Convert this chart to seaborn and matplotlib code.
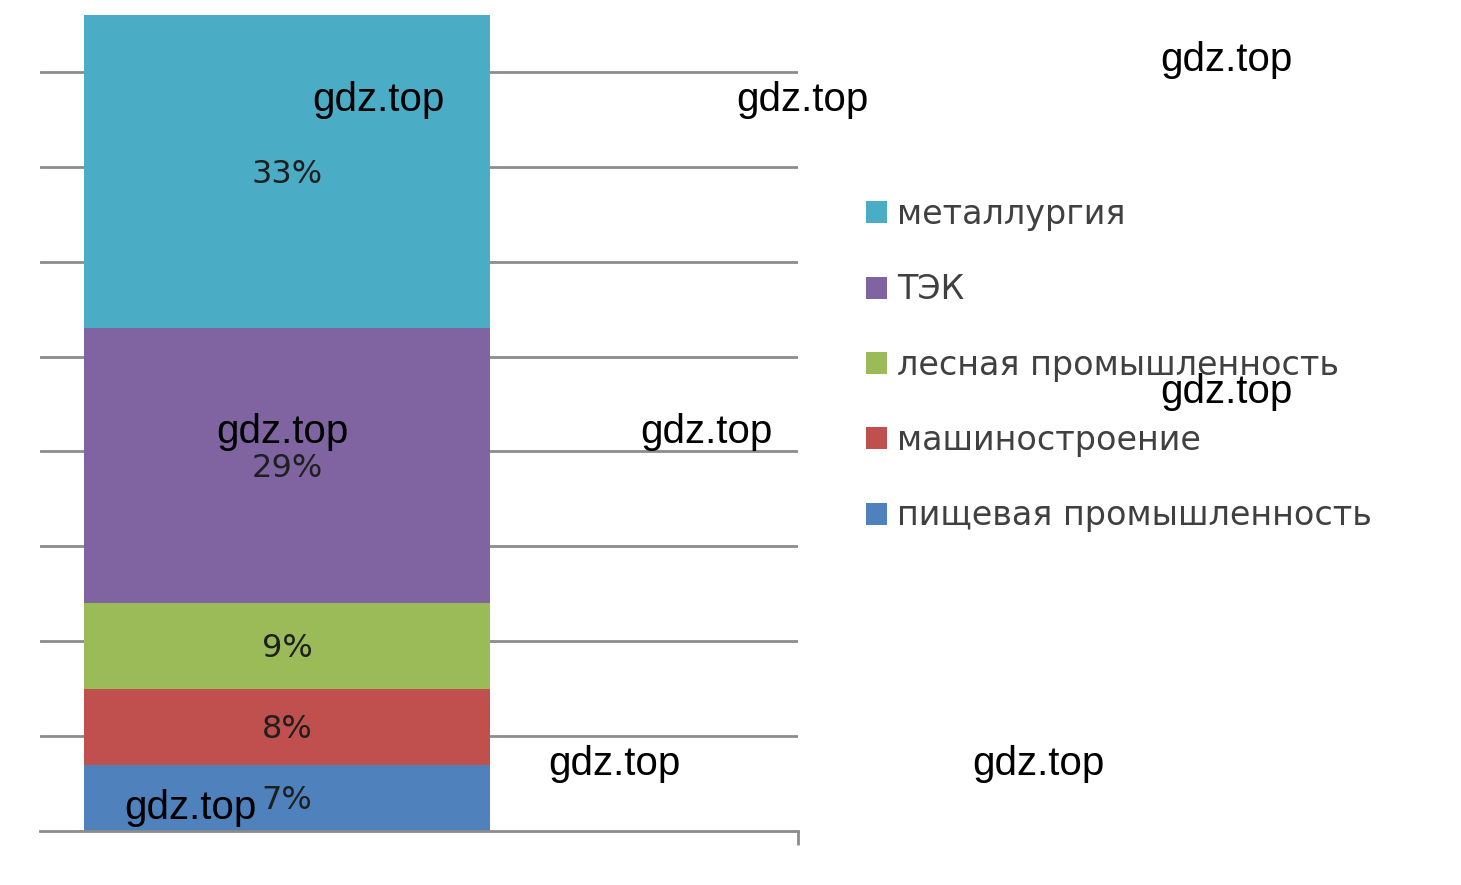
import matplotlib
matplotlib.use("Agg")
import matplotlib.pyplot as plt
import seaborn as sns
import pandas as pd
import numpy as np
from matplotlib.patches import Patch

# ---- data ----
categories = ['пищевая промышленность', 'машиностроение', 'лесная промышленность', 'ТЭК', 'металлургия']
values = [7, 8, 9, 29, 33]
colors = ['#4F81BD', '#C0504D', '#9BBB59', '#8064A2', '#4BACC6']
label_texts = ['7%', '8%', '9%', '29%', '33%']
y_ticks = [10, 20, 30, 40, 50, 60, 70, 80]

sns.set_theme(style="white")
plt.rcParams['font.family'] = ['DejaVu Sans']

fig = plt.figure(figsize=(14.61, 8.85), dpi=100)
ax = fig.add_axes([40 / 1461, 54 / 885, 758 / 1461, 816 / 885])

cum = np.cumsum(values)
group = 'все'
# draw from the tallest cumulative bar down so smaller ones overlay
for i in range(len(values) - 1, -1, -1):
    df = pd.DataFrame({'g': [group], 'v': [cum[i]]})
    sns.barplot(data=df, x='g', y='v', color=colors[i], saturation=1,
                width=0.8, errorbar=None, ax=ax, zorder=2, linewidth=0)

# segment labels
bottoms = np.concatenate([[0], cum[:-1]])
for b, v, t in zip(bottoms, values, label_texts):
    ax.text(0, b + v / 2 - 0.3, t, ha='center', va='center', fontsize=23,
            color='#1f1f1f', zorder=5)

L, R = -0.4867, 1.007
ax.set_xlim(L, R)
ax.set_ylim(0, 86)
ax.set_yticks(y_ticks)
ax.set_yticklabels([])
ax.yaxis.grid(True, color='#8c8c8c', linewidth=2)
ax.set_axisbelow(True)
ax.tick_params(axis='y', length=0)
ax.set_xticks([R])
ax.set_xticklabels([''])
ax.tick_params(axis='x', direction='out', length=10, width=2, color='#8c8c8c', bottom=True)
ax.set_xlabel('')
ax.set_ylabel('')
for s in ['left', 'top', 'right']:
    ax.spines[s].set_visible(False)
ax.spines['bottom'].set_color('#8c8c8c')
ax.spines['bottom'].set_linewidth(2)

# legend (top-to-bottom: reverse of stacking order)
handles = [Patch(facecolor=colors[i], edgecolor='none') for i in range(len(values) - 1, -1, -1)]
labels = [categories[i] for i in range(len(values) - 1, -1, -1)]
fig.legend(handles, labels, loc='upper left', bbox_to_anchor=(836 / 1461, 1 - 168 / 885),
           frameon=False, fontsize=24, handlelength=0.64, handleheight=0.64,
           handletextpad=0.3, labelspacing=1.27, labelcolor='#404040')

# watermarks
wm = [(312, 100), (736, 100), (1160, 60), (216, 432), (640, 432), (1160, 392),
      (548, 764), (972, 764), (124, 808)]
for x, y in wm:
    fig.text(x / 1461, 1 - y / 885, 'gdz.top', ha='left', va='center',
             fontsize=29, family='Liberation Sans', color='black', zorder=10)

fig.savefig('out.png', dpi=100)
